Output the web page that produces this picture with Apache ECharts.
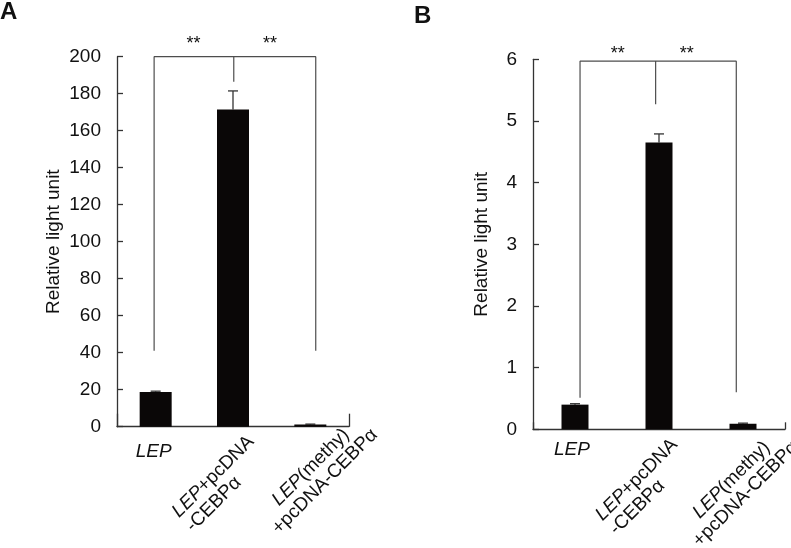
<!DOCTYPE html>
<html><head><meta charset="utf-8">
<script src="https://cdn.jsdelivr.net/npm/echarts@6/dist/echarts.min.js"></script>
<style>html,body{margin:0;padding:0;background:#fff}#c{width:791px;height:548px}</style>
</head><body><div id="c"></div>
<script>
// ---- data ----
const categoryLines = [['LEP'], ['LEP+pcDNA', '-CEBPα'], ['LEP(methy)', '+pcDNA-CEBPα']];
const categories = categoryLines.map(l => l.join(''));
const valuesA = [18.7, 171.5, 1.2];
const errorsA = [0.5, 10, 0.2];
const valuesB = [0.40, 4.65, 0.09];
const errorsB = [0.015, 0.14, 0.01];
const yTicksA = [0, 20, 40, 60, 80, 100, 120, 140, 160, 180, 200];
const yTicksB = [0, 1, 2, 3, 4, 5, 6];
const bracketLegXA = [0.48, 1.51, 2.57];
const bracketLegLowA = [41, 186.5, 41];
const bracketTopA = 200;
const starXA = [0.99, 1.98];
const bracketLegXB = [0.56, 1.46, 2.42];
const bracketLegLowB = [0.51, 5.27, 0.6];
const bracketTopB = 5.97;
const starXB = [1.01, 1.83];
const starLabels = ['**', '**'];
const yName = 'Relative light unit';
const panelLetters = ['A', 'B'];

// ---- styles ----
const FF = '"Liberation Sans", Arial, Helvetica, sans-serif';
const AXIS = '#333';
const BAR = '#0a0707';
const BRK = '#4d4d4d';
const FS = 19;

const rich = {};
[['L', 'left'], ['C', 'center']].forEach(([k, al]) => {
  rich[k] = {fontSize: FS, fontFamily: FF, lineHeight: 20, align: al, fill: '#111'};
  rich[k + 'i'] = {fontSize: FS, fontFamily: FF, lineHeight: 20, align: al, fill: '#111', fontStyle: 'italic'};
});
function richText(lines, cls) {
  return lines.map(line => {
    if (line.indexOf('LEP') === 0) {
      return '{' + cls + 'i|LEP}' + (line.length > 3 ? '{' + cls + '|' + line.slice(3) + '}' : '');
    }
    return '{' + cls + '|' + line + '}';
  }).join('\n');
}

const labelLayoutA = [
  {rot: 0, dx: -2, dy: 14.6, align: 'center', cls: 'L'},
  {rot: 45, dx: 11, dy: 5, align: 'right', cls: 'L'},
  {rot: 45, dx: 43, dy: -16, align: 'right', cls: 'C'}
];
const labelLayoutB = [
  {rot: 0, dx: -3, dy: 10.7, align: 'center', cls: 'L'},
  {rot: 45, dx: 8.5, dy: 5.5, align: 'right', cls: 'L'},
  {rot: 45, dx: 31, dy: -6, align: 'right', cls: 'C'}
];

function catAxis(grid, tickLen) {
  return {
    type: 'category', gridIndex: grid, data: categories,
    axisLine: {show: true, lineStyle: {color: AXIS, width: 1.3}},
    axisTick: {show: true, inside: true, length: tickLen, lineStyle: {color: AXIS, width: 1.3}},
    axisLabel: {show: false}, splitLine: {show: false}
  };
}
function valXAxis(grid) {
  return {type: 'value', gridIndex: grid, min: 0, max: 3, show: false, position: 'top'};
}
function yAxis(grid, ticks, nameGap) {
  return {
    type: 'value', gridIndex: grid, min: ticks[0], max: ticks[ticks.length - 1],
    interval: ticks[1] - ticks[0],
    name: yName, nameLocation: 'middle', nameGap: nameGap, nameRotate: 90,
    nameTextStyle: {fontSize: FS, fontFamily: FF, color: '#111'},
    axisLine: {show: true, lineStyle: {color: AXIS, width: 1.3}},
    axisTick: {show: true, inside: true, length: 6, lineStyle: {color: AXIS, width: 1.3}},
    axisLabel: {margin: 16, fontSize: 19, fontFamily: FF, color: '#111'},
    splitLine: {show: false}
  };
}
function barSeries(xi, yi, vals, w) {
  return {type: 'bar', xAxisIndex: xi, yAxisIndex: yi, data: vals, barWidth: w,
    itemStyle: {color: BAR}, silent: true, animation: false};
}
function errSeries(xi, yi, vals, errs) {
  return {
    type: 'custom', xAxisIndex: xi, yAxisIndex: yi, silent: true, animation: false, clip: false,
    data: vals.map((v, i) => [i, v, errs[i]]), encode: {x: 0, y: 1},
    renderItem: (params, api) => {
      const i = api.value(0), v = api.value(1), e = api.value(2);
      const p0 = api.coord([i, v]), p1 = api.coord([i, v + e]);
      const st = {stroke: '#333', lineWidth: 1.3};
      return {type: 'group', children: [
        {type: 'line', shape: {x1: p0[0], y1: p0[1], x2: p1[0], y2: p1[1]}, style: st},
        {type: 'line', shape: {x1: p1[0] - 5, y1: p1[1], x2: p1[0] + 5, y2: p1[1]}, style: st}
      ]};
    }
  };
}
function labelSeries(xi, yi, layout) {
  return {
    type: 'custom', xAxisIndex: xi, yAxisIndex: yi, silent: true, animation: false, clip: false,
    data: categories.map((c, i) => [i, 0]), encode: {x: 0, y: 1},
    renderItem: (params, api) => {
      const i = api.value(0);
      const p = api.coord([i, 0]);
      const L = layout[i];
      return {type: 'text', x: p[0] + L.dx, y: p[1] + L.dy, rotation: L.rot * Math.PI / 180,
        style: {text: richText(categoryLines[i], L.cls), rich: rich, align: L.align,
          verticalAlign: 'top', fontSize: FS, fontFamily: FF, fill: '#111'}};
    }
  };
}
function bracketSeries(xi, yi, legX, legLow, top) {
  const pts = [];
  legX.forEach((x, k) => {
    if (k === 0) { pts.push([x, legLow[k]]); pts.push([x, top]); }
    else { pts.push([x, top]); pts.push([x, legLow[k]]); if (k < legX.length - 1) pts.push([x, top]); }
  });
  return {type: 'line', xAxisIndex: xi, yAxisIndex: yi, data: pts, symbol: 'none', silent: true,
    animation: false, lineStyle: {color: BRK, width: 1.2}};
}
function starSeries(xi, yi, xs, top, dy) {
  return {
    type: 'custom', xAxisIndex: xi, yAxisIndex: yi, silent: true, animation: false, clip: false,
    data: xs.map((x, k) => [x, top, k]), encode: {x: 0, y: 1},
    renderItem: (params, api) => {
      const p = api.coord([api.value(0), api.value(1)]);
      return {type: 'text', x: p[0], y: p[1] + dy,
        style: {text: starLabels[api.value(2)], align: 'center', verticalAlign: 'middle',
          fontSize: 18, fontFamily: FF, fill: '#111'}};
    }
  };
}

const chart = echarts.init(document.getElementById('c'), null, {renderer: 'canvas'});
chart.setOption({
  animation: false,
  backgroundColor: '#fff',
  grid: [
    {left: 117, top: 56.7, width: 232, height: 370, outerBoundsMode: 'none'},
    {left: 533, top: 59.3, width: 252, height: 370, outerBoundsMode: 'none'}
  ],
  xAxis: [catAxis(0, 13), valXAxis(0), catAxis(1, 7), valXAxis(1)],
  yAxis: [yAxis(0, yTicksA, 54), yAxis(1, yTicksB, 42)],
  graphic: [
    {type: 'text', left: 0, top: 0, style: {text: panelLetters[0], fontSize: 24, fontWeight: 'bold', fontFamily: FF, fill: '#111'}},
    {type: 'text', left: 414, top: 4, style: {text: panelLetters[1], fontSize: 24, fontWeight: 'bold', fontFamily: FF, fill: '#111'}}
  ],
  series: [
    barSeries(0, 0, valuesA, 32),
    errSeries(0, 0, valuesA, errorsA),
    labelSeries(0, 0, labelLayoutA),
    bracketSeries(1, 0, bracketLegXA, bracketLegLowA, bracketTopA),
    starSeries(1, 0, starXA, bracketTopA, -12.6),
    barSeries(2, 1, valuesB, 27),
    errSeries(2, 1, valuesB, errorsB),
    labelSeries(2, 1, labelLayoutB),
    bracketSeries(3, 1, bracketLegXB, bracketLegLowB, bracketTopB),
    starSeries(3, 1, starXB, bracketTopB, -7)
  ]
});
</script></body></html>
